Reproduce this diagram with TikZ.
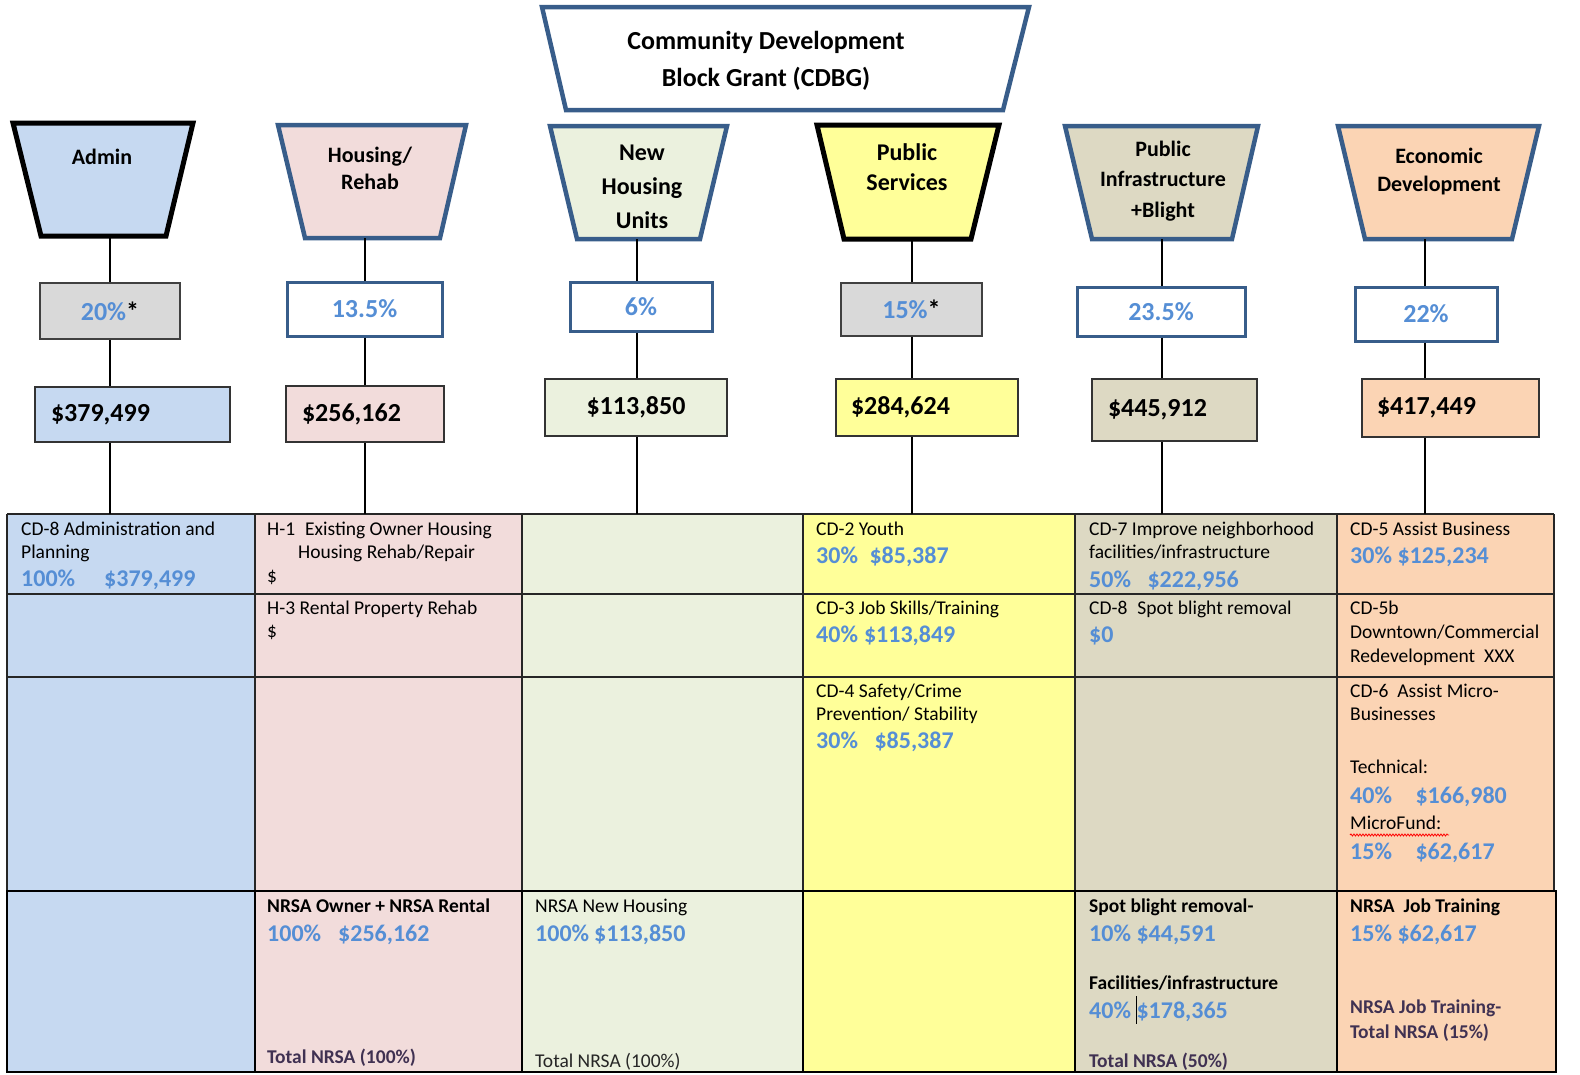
\documentclass[tikz,border=0pt]{standalone}
\usepackage{fontspec}
\setmainfont{Carlito}
\usetikzlibrary{decorations.pathmorphing}
\definecolor{adminC}{RGB}{198,217,241}
\definecolor{houseC}{RGB}{242,220,219}
\definecolor{newC}{RGB}{235,241,222}
\definecolor{pubC}{RGB}{255,255,153}
\definecolor{infC}{RGB}{221,217,195}
\definecolor{ecoC}{RGB}{251,212,180}
\definecolor{grayC}{RGB}{217,217,217}
\definecolor{edgeB}{RGB}{56,93,138}
\definecolor{txtB}{RGB}{85,142,213}
\definecolor{txtP}{RGB}{64,49,82}
\begin{document}
\begin{tikzpicture}[x=1pt,y=-1pt,
  trapB/.style={draw=edgeB,line width=4.5pt,line join=miter},
  trapK/.style={draw=black,line width=5pt,line join=miter},
  lbl/.style={align=center,inner sep=0pt},
  pctB/.style={draw=edgeB,line width=3pt,fill=white,inner sep=0pt,font=\fontsize{26}{30}\selectfont\bfseries,text=txtB},
  pctG/.style={draw=black!75,line width=1.5pt,fill=grayC,inner sep=0pt,font=\fontsize{26}{30}\selectfont\bfseries},
  amt/.style={draw=black!80,line width=1.8pt,inner ysep=0pt,font=\fontsize{26}{30}\selectfont\bfseries},
  conn/.style={draw=black,line width=2.5pt},
  tb/.style={anchor=base west,inner sep=0pt,font=\fontsize{19.5}{23}\selectfont},
  tbb/.style={anchor=base west,inner sep=0pt,font=\fontsize{19.5}{23}\selectfont\bfseries},
  tblue/.style={anchor=base west,inner sep=0pt,text=txtB,font=\fontsize{24}{28}\selectfont\bfseries},
  tpur/.style={tbb,text=txtP},
  tgrid/.style={draw=black!85,line width=1.4pt},
  tgridK/.style={draw=black,line width=2.8pt}
]
\useasboundingbox (0,0) rectangle (1580,1074);

% ---------- title ----------
\draw[trapB,fill=white] (542,7) -- (1029,7) -- (1003,110) -- (566,110) -- cycle;
\node[lbl,font=\fontsize{26}{37}\selectfont\bfseries] (title) at (766,61) {Community Development\\Block Grant (CDBG)};

% ---------- category trapezoids ----------
\draw[trapK,fill=adminC] (13,123) -- (193,123) -- (166,236) -- (41,236) -- cycle;
\node[lbl,font=\fontsize{22}{27}\selectfont\bfseries] (cat1) at (102,157) {Admin};
\coordinate (T1) at (110,236);

\draw[trapB,fill=houseC] (278,125) -- (466,125) -- (440,238) -- (305,238) -- cycle;
\node[lbl,font=\fontsize{22}{27}\selectfont\bfseries] (cat2) at (370,168.5) {Housing/\\Rehab};
\coordinate (T2) at (365,238);

\draw[trapB,fill=newC] (550,126) -- (727,126) -- (700,239) -- (577,239) -- cycle;
\node[lbl,font=\fontsize{24}{34}\selectfont\bfseries] (cat3) at (642,186.5) {New\\Housing\\Units};
\coordinate (T3) at (637,239);

\draw[trapK,fill=pubC] (817,125) -- (999,125) -- (971,239) -- (844,239) -- cycle;
\node[lbl,font=\fontsize{24}{30}\selectfont\bfseries] (cat4) at (907,167.5) {Public\\Services};
\coordinate (T4) at (912,239);

\draw[trapB,fill=infC] (1065,126) -- (1258,126) -- (1232,239) -- (1092,239) -- cycle;
\node[lbl,font=\fontsize{22}{30.5}\selectfont\bfseries] (cat5) at (1163,181) {Public\\Infrastructure\\+Blight};
\coordinate (T5) at (1162,239);

\draw[trapB,fill=ecoC] (1338,126) -- (1539,126) -- (1512,239) -- (1365,239) -- cycle;
\node[lbl,font=\fontsize{22}{28}\selectfont\bfseries] (cat6) at (1439,172) {Economic\\Development};
\coordinate (T6) at (1425,239);

% ---------- percent boxes ----------
\node[pctG,minimum width=140pt,minimum height=56pt] (P1) at (110,311) {{\color{txtB}20\%}*};
\node[pctB,minimum width=155pt,minimum height=54pt] (P2) at (364.5,309) {13.5\%};
\node[pctB,minimum width=142pt,minimum height=49pt] (P3) at (641,306.5) {6\%};
\node[pctG,minimum width=141pt,minimum height=53pt] (P4) at (911.5,309.5) {{\color{txtB}15\%}*};
\node[pctB,minimum width=168pt,minimum height=49pt] (P5) at (1161,311.5) {23.5\%};
\node[pctB,minimum width=142pt,minimum height=54pt] (P6) at (1426,314) {22\%};

% ---------- amount boxes ----------
\node[amt,fill=adminC,minimum width=195pt,minimum height=55pt,inner xsep=16pt,text width=163pt,align=left] (A1) at (132.5,414.5) {\$379,499};
\node[amt,fill=houseC,minimum width=158pt,minimum height=56pt,inner xsep=16pt,text width=126pt,align=left] (A2) at (365,414) {\$256,162};
\node[amt,fill=newC,minimum width=182pt,minimum height=57pt,inner xsep=4pt] (A3) at (636,407.5) {\$113,850};
\node[amt,fill=pubC,minimum width=182pt,minimum height=57pt,inner xsep=15pt,text width=152pt,align=left] (A4) at (927,407.5) {\$284,624};
\node[amt,fill=infC,minimum width=165pt,minimum height=62pt,inner xsep=16pt,text width=133pt,align=left] (A5) at (1174.5,410) {\$445,912};
\node[amt,fill=ecoC,minimum width=177pt,minimum height=58pt,inner xsep=15pt,text width=147pt,align=left] (A6) at (1450.5,408) {\$417,449};

% ---------- table ----------
\coordinate (tabtop) at (0,514);
\fill[adminC] (7,514) rectangle (255,1072);
\fill[houseC] (255,514) rectangle (522,1072);
\fill[newC] (522,514) rectangle (803,1072);
\fill[pubC] (803,514) rectangle (1075,1072);
\fill[infC] (1075,514) rectangle (1337,1072);
\fill[ecoC] (1337,514) rectangle (1555,1072);
\foreach \yy in {514,594,677} {\draw[tgrid] (7,\yy) -- (1554,\yy);}
\foreach \xx in {7,255,522,803,1075,1337,1554} {\draw[tgrid] (\xx,514) -- (\xx,891);}
\draw[tgridK] (7,891) rectangle (1556,1072);
\foreach \xx in {255,522,803,1075,1337} {\draw[draw=black,line width=2.2pt] (\xx,891) -- (\xx,1072);}

% ---------- connectors ----------
\foreach \i in {1,...,6} {
  \draw[conn] (T\i) -- (T\i |- P\i.north);
  \draw[conn] (P\i.south -| T\i) -- (T\i |- A\i.north);
  \draw[conn] (A\i.south -| T\i) -- (T\i |- tabtop);
}

% ---------- table text: column 1 ----------
\node[tb] (r1c1a) at (21,535) {CD-8 Administration and};
\node[tb] (r1c1b) at (21,558) {Planning};
\node[tblue] (r1c1c) at (21,586) {100\%\hspace{29pt}\$379,499};

% ---------- column 2 ----------
\node[tb] (r1c2a) at (267,535) {H-1\hspace{10pt}Existing Owner Housing};
\node[tb] (r1c2b) at (298,558) {Housing Rehab/Repair};
\node[tb] (r1c2c) at (267,582) {\$};
\node[tb] (r2c2a) at (267,614) {H-3 Rental Property Rehab};
\node[tb] (r2c2b) at (267,637) {\$};
\node[tbb] (r4c2a) at (267,912) {NRSA Owner + NRSA Rental};
\node[tblue] (r4c2b) at (267,941) {100\%\hspace{17pt}\$256,162};
\node[tpur] (r4c2c) at (267,1063) {Total NRSA (100\%)};

% ---------- column 3 ----------
\node[tb] (r4c3a) at (535,912) {NRSA New Housing};
\node[tblue] (r4c3b) at (535,941) {100\%\hspace{5pt}\$113,850};
\node[tb,text=black!85] (r4c3c) at (535,1067) {Total NRSA (100\%)};

% ---------- column 4 ----------
\node[tb] (r1c4a) at (816,535) {CD-2 Youth};
\node[tblue] (r1c4b) at (816,563) {30\%\hspace{11.5pt}\$85,387};
\node[tb] (r2c4a) at (816,614) {CD-3 Job Skills/Training};
\node[tblue] (r2c4b) at (816,642) {40\%\hspace{6pt}\$113,849};
\node[tb] (r3c4a) at (816,697) {CD-4 Safety/Crime};
\node[tb] (r3c4b) at (816,720) {Prevention/ Stability};
\node[tblue] (r3c4c) at (816,748) {30\%\hspace{16.5pt}\$85,387};

% ---------- column 5 ----------
\node[tb] (r1c5a) at (1089,535) {CD-7 Improve neighborhood};
\node[tb] (r1c5b) at (1089,558) {facilities/infrastructure};
\node[tblue] (r1c5c) at (1089,587) {50\%\hspace{16.5pt}\$222,956};
\node[tb] (r2c5a) at (1089,614) {CD-8\hspace{10pt}Spot blight removal};
\node[tblue] (r2c5b) at (1089,642) {\$0};
\node[tbb] (r4c5a) at (1089,912) {Spot blight removal-};
\node[tblue] (r4c5b) at (1089,941) {10\%\hspace{5.5pt}\$44,591};
\node[tbb] (r4c5c) at (1089,989) {Facilities/infrastructure};
\node[tblue] (r4c5d) at (1089,1018) {40\%\hspace{5.5pt}\$178,365};
\draw[line width=1pt] (1136,996) -- (1136,1024);
\node[tpur] (r4c5e) at (1089,1067) {Total NRSA (50\%)};

% ---------- column 6 ----------
\node[tb] (r1c6a) at (1350,535) {CD-5 Assist Business};
\node[tblue] (r1c6b) at (1350,563) {30\%\hspace{5.5pt}\$125,234};
\node[tb] (r2c6a) at (1350,614) {CD-5b};
\node[tb] (r2c6b) at (1350,638) {Downtown/Commercial};
\node[tb] (r2c6c) at (1350,662) {Redevelopment\hspace{9pt}XXX};
\node[tb] (r3c6a) at (1350,697) {CD-6\hspace{9pt}Assist Micro-};
\node[tb] (r3c6b) at (1350,720) {Businesses};
\node[tb] (r3c6c) at (1350,773) {Technical:};
\node[tblue] (r3c6d) at (1350,803) {40\%\hspace{23.5pt}\$166,980};
\node[tb] (r3c6e) at (1350,829) {MicroFund:};
\draw[red,line width=0.8pt,decorate,decoration={snake,amplitude=1pt,segment length=3pt}] (1350,835) -- (1449,835);
\node[tblue] (r3c6f) at (1350,859) {15\%\hspace{23.5pt}\$62,617};
\node[tbb] (r4c6a) at (1350,912) {NRSA\hspace{9pt}Job Training};
\node[tblue] (r4c6b) at (1350,941) {15\%\hspace{5.5pt}\$62,617};
\node[tpur] (r4c6c) at (1350,1013) {NRSA Job Training-};
\node[tpur] (r4c6d) at (1350,1038) {Total NRSA (15\%)};
\end{tikzpicture}
\end{document}
